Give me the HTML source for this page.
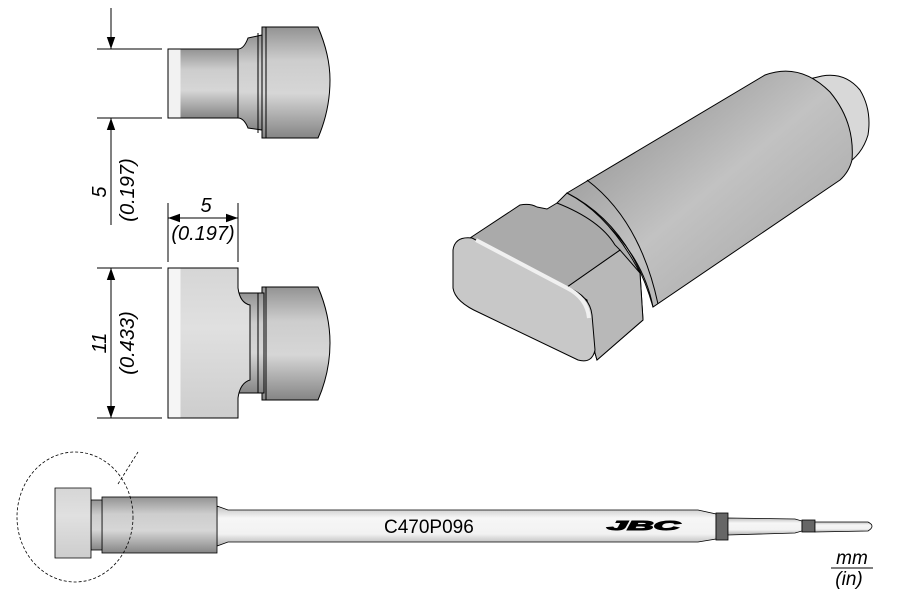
<!DOCTYPE html>
<html><head><style>
html,body{margin:0;padding:0;background:#fff;}
svg{display:block;}
text{font-family:"Liberation Sans",Arial,sans-serif;font-style:italic;}
</style></head><body>
<svg width="900" height="600" viewBox="0 0 900 600" xmlns="http://www.w3.org/2000/svg">
<defs>
<linearGradient id="gv" x1="0" y1="0" x2="0" y2="1">
<stop offset="0" stop-color="#939393"/><stop offset="0.3" stop-color="#cdcdcd"/><stop offset="0.6" stop-color="#d6d6d6"/><stop offset="1" stop-color="#858585"/></linearGradient>
<linearGradient id="gl" x1="0" y1="0" x2="0" y2="1">
<stop offset="0" stop-color="#d6d6d6"/><stop offset="0.4" stop-color="#e0e0e0"/><stop offset="1" stop-color="#cdcdcd"/></linearGradient>
<linearGradient id="gs" x1="0" y1="0" x2="0" y2="1">
<stop offset="0" stop-color="#c0c0c0"/><stop offset="0.3" stop-color="#f6f6f6"/><stop offset="0.7" stop-color="#f2f2f2"/><stop offset="1" stop-color="#b0b0b0"/></linearGradient>
<linearGradient id="gc" x1="0" y1="0" x2="1" y2="1">
<stop offset="0" stop-color="#858585"/><stop offset="0.5" stop-color="#c2c2c2"/><stop offset="1" stop-color="#a0a0a0"/></linearGradient>
<marker id="ar" viewBox="0 0 10 10" refX="10" refY="5" markerWidth="12" markerHeight="12" orient="auto-start-reverse" markerUnits="userSpaceOnUse"><path d="M0,1.5 L10,5 L0,8.5 Z" fill="#000"/></marker>
</defs>

<g stroke="#000" stroke-width="1">
<path d="M262,27 L318,27 Q330,55 330,80 Q330,110 318,138 L262,138 Z" fill="url(#gv)"/>
<path d="M248,38 L262,35 L262,130 L248,128 Q244,118 238,118 L238,49 Q244,49 248,38 Z" fill="url(#gv)"/>
<rect x="168" y="49" width="70" height="69" fill="url(#gv)"/>
<rect x="168.5" y="49.5" width="12" height="68" fill="#f2f2f2" stroke="none"/>
<line x1="258" y1="33" x2="258" y2="133"/>
<line x1="266" y1="27" x2="266" y2="138"/>
</g>

<g stroke="#000" stroke-width="1">
<path d="M262,287 L318,287 Q330,315 330,343 Q330,372 318,400 L262,400 Z" fill="url(#gv)"/>
<rect x="238" y="293" width="26" height="100" fill="url(#gv)"/>
<path d="M168,268 L238,268 L238,288 Q240,303 250,305 L250,380 Q240,383 238,398 L238,418 L168,418 Z" fill="url(#gl)"/>
<rect x="168.5" y="268.5" width="12" height="149" fill="#f5f5f5" stroke="none"/>
<line x1="258" y1="293" x2="258" y2="393"/>
<line x1="266" y1="287" x2="266" y2="400"/>
</g>

<g stroke="#000" stroke-width="1" fill="none">
<line x1="97" y1="49" x2="162" y2="49"/>
<line x1="97" y1="118" x2="162" y2="118"/>
<line x1="111" y1="8" x2="111" y2="49" marker-end="url(#ar)"/>
<line x1="111" y1="225" x2="111" y2="118" marker-end="url(#ar)"/>
<line x1="97" y1="268" x2="162" y2="268"/>
<line x1="97" y1="418" x2="162" y2="418"/>
<line x1="111" y1="268" x2="111" y2="418" marker-start="url(#ar)" marker-end="url(#ar)"/>
<line x1="168" y1="203" x2="168" y2="262"/>
<line x1="238" y1="203" x2="238" y2="262"/>
<line x1="168" y1="218" x2="238" y2="218" marker-start="url(#ar)" marker-end="url(#ar)"/>
</g>
<g font-size="20" fill="#000">
<text transform="translate(106,192) rotate(-90)" text-anchor="middle">5</text>
<text transform="translate(134,190) rotate(-90)" text-anchor="middle">(0.197)</text>
<text transform="translate(106,343) rotate(-90)" text-anchor="middle">11</text>
<text transform="translate(134,343) rotate(-90)" text-anchor="middle">(0.433)</text>
<text x="206" y="212" text-anchor="middle">5</text>
<text x="203" y="240" text-anchor="middle">(0.197)</text>
</g>

<g stroke="#000" stroke-width="1">
<path d="M805,80 L822,76 Q845,72 860,90 Q872,110 868,135 Q862,155 845,165 Z" fill="#d8d8d8"/>
<path d="M567,193 L765,75 Q800,62 830,92 Q855,122 852,160 Q849,172 840,180 L653,307 Q640,240 567,193 Z" fill="url(#gc)"/>
<path d="M567,193 Q630,225 653,307" fill="none"/>
<path d="M587,180 Q640,220 658,304" fill="none"/>
<path d="M557,203 L567,193 Q610,215 640,273 L643,320 L597,360 L595,353 L587,300 L567,287 Z" fill="#b0b0b0"/>
<path d="M567,287 L620,250 L640,273 L643,320 L597,360 L595,353 L587,300 Z" fill="#b8b8b8"/>
<path d="M470,238 L520,205 Q530,203 537,207 L547,209 L557,203 Q600,220 615,245 L620,250 L567,287 Z" fill="#aaaaaa"/>
<path d="M453,250 Q455,236 472,238 L567,287 Q590,296 592,315 L595,350 Q592,364 578,360 L480,313 Q455,302 453,288 Z" fill="#c8c8c8"/>
<path d="M476,240 L567,288 Q587,298 589,318" stroke="#f0f0f0" stroke-width="4" fill="none"/>
</g>

<g stroke="#000" stroke-width="0.8">
<path d="M217,506 L228,510 L698,510 L716,514 L716,539 L698,542 L228,542 L217,546 Z" fill="url(#gs)"/>
<rect x="716" y="513" width="12" height="27" fill="#666"/>
<path d="M728,518 L795,519 L802,521 L802,531 L795,533 L728,535 Z" fill="url(#gs)"/>
<rect x="802" y="520" width="13" height="12" fill="#666"/>
<path d="M815,522 L868,522 Q876,526 868,531 L815,532 Z" fill="url(#gs)"/>
<rect x="102" y="497" width="115" height="56" fill="url(#gv)"/>
<rect x="91" y="500" width="11" height="50" fill="url(#gv)"/>
<path d="M55,488 L91,488 L91,558 L55,558 Z" fill="url(#gl)"/>
</g>
<ellipse cx="75" cy="517" rx="58" ry="65" fill="none" stroke="#000" stroke-width="0.8" stroke-dasharray="3,2"/>
<line x1="118" y1="484" x2="138" y2="452" stroke="#000" stroke-width="0.8" stroke-dasharray="3,2"/>
<text x="384" y="533" font-size="19" style="font-style:normal">C470P096</text>
<text x="607" y="530" font-size="13" font-weight="bold" stroke="#000" stroke-width="1" style="font-style:italic" textLength="73" lengthAdjust="spacingAndGlyphs">JBC</text>
<text x="852" y="564" font-size="19" text-anchor="middle">mm</text>
<line x1="831" y1="568" x2="873" y2="568" stroke="#000" stroke-width="1"/>
<text x="849" y="585" font-size="19" text-anchor="middle">(in)</text>
</svg>
</body></html>
